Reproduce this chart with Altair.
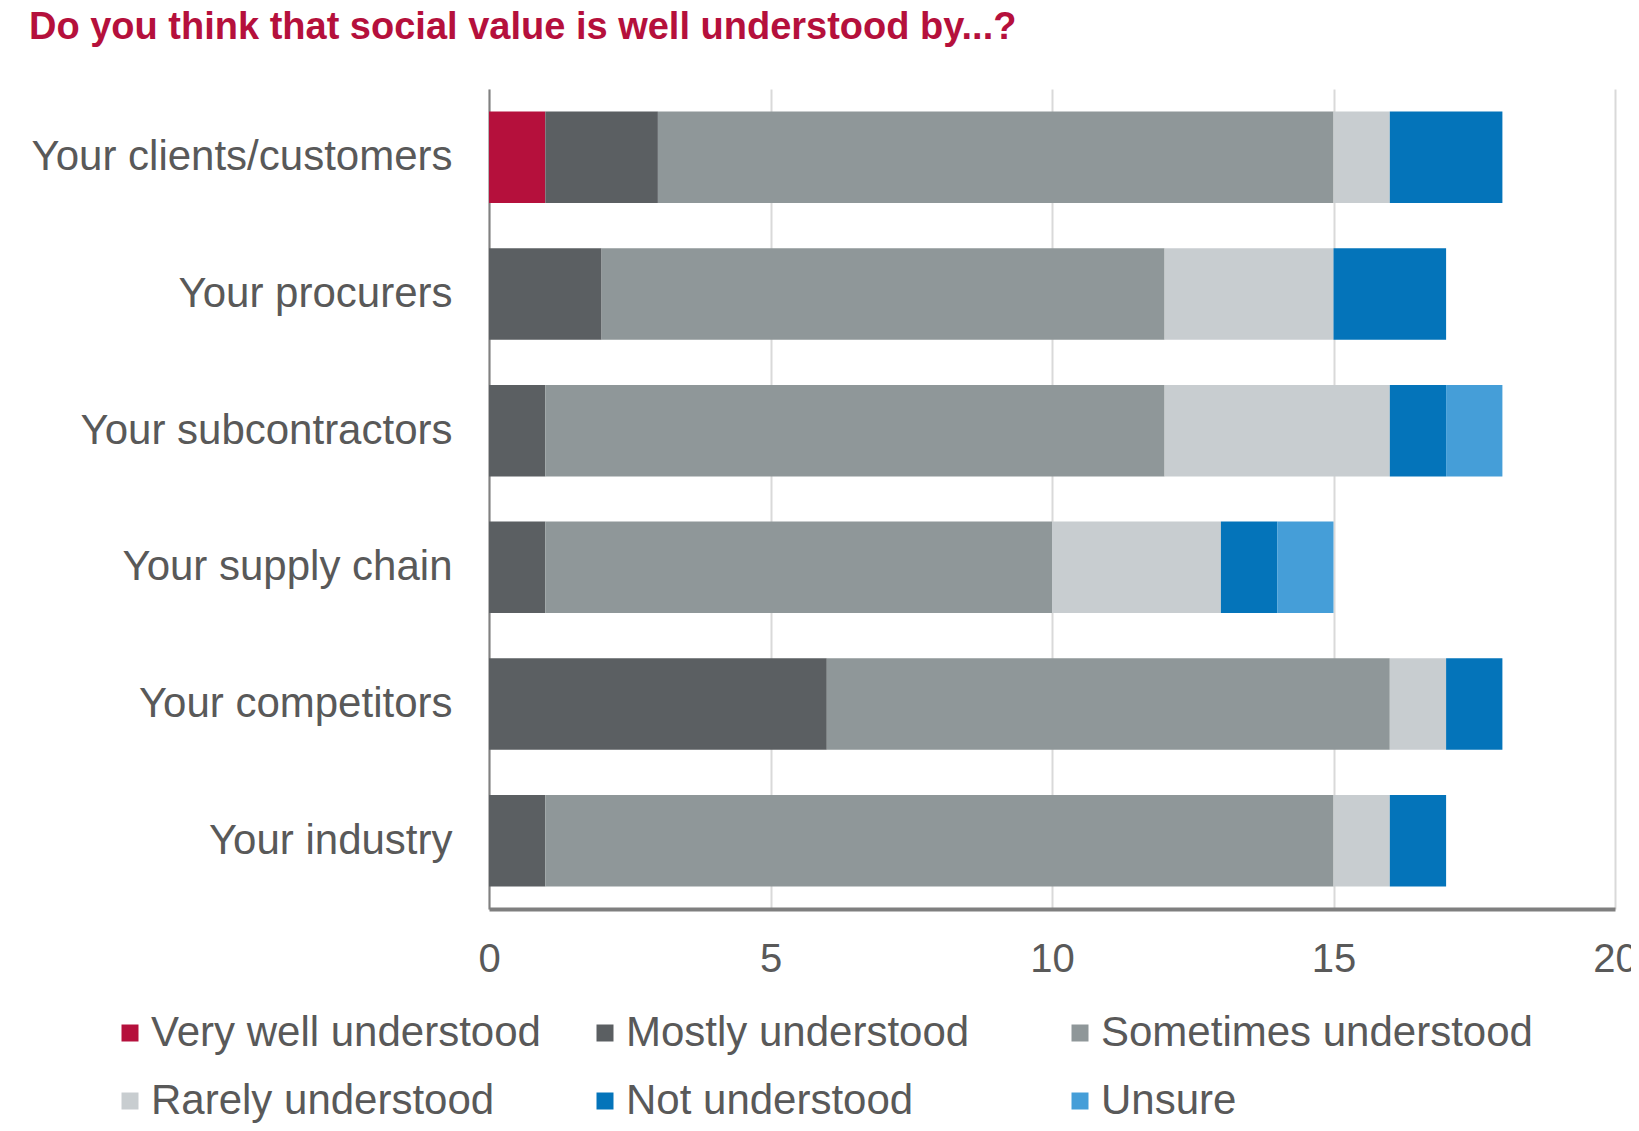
import altair as alt
import pandas as pd

groups = ["Your clients/customers", "Your procurers", "Your subcontractors",
          "Your supply chain", "Your competitors", "Your industry"]
responses = ["Very well understood", "Mostly understood", "Sometimes understood",
             "Rarely understood", "Not understood", "Unsure"]
colors = ["#B5103C", "#5B5F62", "#8F9799", "#C8CDD0", "#0474BA", "#459ED8"]
# legend shows entries row by row: reorder for the column-major legend grid
legend_order = ["Very well understood", "Rarely understood", "Mostly understood",
                "Not understood", "Sometimes understood", "Unsure"]

very_well = [1, 0, 0, 0, 0, 0]
mostly = [2, 2, 1, 1, 6, 1]
sometimes = [12, 10, 11, 9, 10, 14]
rarely = [1, 3, 4, 3, 1, 1]
not_understood = [2, 2, 1, 1, 1, 1]
unsure = [0, 0, 1, 1, 0, 0]

series = [very_well, mostly, sometimes, rarely, not_understood, unsure]
rows = []
for ri, (resp, vals) in enumerate(zip(responses, series)):
    for g, v in zip(groups, vals):
        rows.append({"group": g, "response": resp, "value": v, "idx": ri})
df = pd.DataFrame(rows)

FONT = "Liberation Sans"
TXT = "#595959"

chart = alt.Chart(df).mark_bar().encode(
    x=alt.X("value:Q", stack="zero",
            scale=alt.Scale(domain=[0, 20], nice=False),
            axis=alt.Axis(title=None, values=[0, 5, 10, 15, 20], ticks=False,
                          labelFont=FONT, labelFontSize=40, labelColor=TXT,
                          labelPadding=30, domainColor="#7F7F7F", domainWidth=4,
                          gridColor="#D9D9D9", gridWidth=2, labelFlush=False)),
    y=alt.Y("group:N", sort=groups,
            scale=alt.Scale(paddingInner=0.33, paddingOuter=0.165),
            axis=alt.Axis(title=None, ticks=False, labelFont=FONT, labelFontSize=42,
                          labelColor=TXT, labelPadding=37, labelLimit=600,
                          domainColor="#808080", domainWidth=2)),
    color=alt.Color("response:N",
                    scale=alt.Scale(domain=responses, range=colors),
                    legend=alt.Legend(title=None, orient="none", legendX=-380, legendY=923,
                                      values=legend_order,
                                      columns=3, gridAlign="all", columnPadding=1,
                                      rowPadding=26, symbolType="square", symbolSize=289,
                                      symbolStrokeWidth=0, labelOffset=0,
                                      labelFont=FONT, labelFontSize=42, labelColor=TXT,
                                      labelLimit=800, padding=0)),
    order=alt.Order("idx:Q"),
).properties(
    width=1126,
    height=820,
    autosize=alt.AutoSizeParams(type="none"),
    padding={"left": 481, "top": 81, "right": 16, "bottom": 214},
    title=alt.TitleParams(
        "Do you think that social value is well understood by...?",
        anchor="start", dx=-460, offset=12, baseline="alphabetic",
        font=FONT, fontSize=38, fontWeight="bold", color="#B5103C", frame="group"),
).configure_view(stroke=None)

chart.save("out.html", embed_options={"renderer": "svg", "actions": False})
